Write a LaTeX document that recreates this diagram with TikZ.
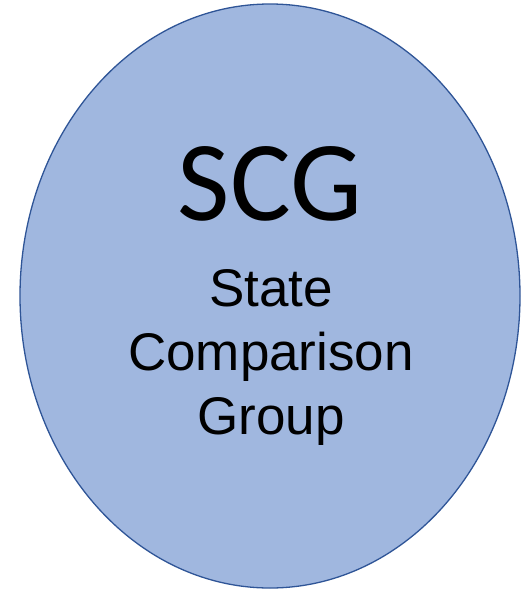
\documentclass[tikz,border=0pt]{standalone}
\usepackage{fontspec}
\setmainfont{Liberation Sans}
\newfontfamily\calfont{Carlito}
\usetikzlibrary{shapes.geometric}
\definecolor{groupfill}{HTML}{A0B7DF}
\definecolor{groupline}{HTML}{2F5597}
\begin{document}
\begin{tikzpicture}[x=1pt,y=-1pt,
  groupcircle/.style={ellipse,draw=groupline,fill=groupfill,line width=1.3pt,
    minimum width=500pt,minimum height=584pt,inner sep=0pt},
  nameline/.style={anchor=base,inner sep=0pt,font=\fontsize{53}{64}\selectfont}]
\useasboundingbox (0,0) rectangle (524,589);
\node[groupcircle] (scg) at (270,296) {};
\node[anchor=base,inner sep=0pt,font=\calfont\fontsize{114}{114}\selectfont] (abbr) at (270,220) {SCG};
\node[nameline] (state) at (271,306) {State};
\node[nameline] (comparison) at (271,370) {Comparison};
\node[nameline] (group) at (271,434) {Group};
\end{tikzpicture}
\end{document}
